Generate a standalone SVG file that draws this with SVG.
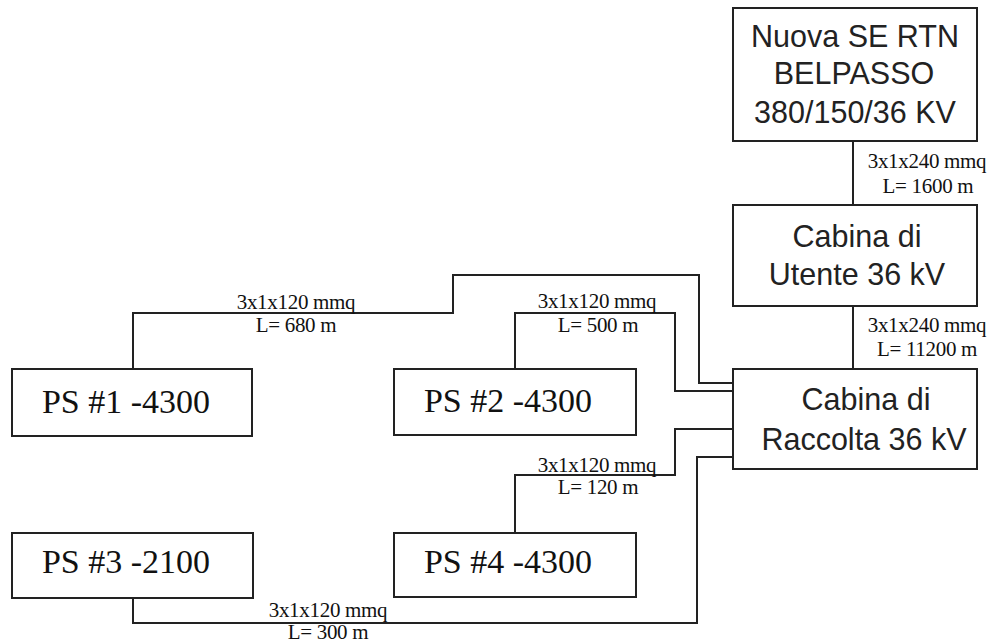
<svg xmlns="http://www.w3.org/2000/svg" width="990" height="643" viewBox="0 0 990 643">
<style>
.box{fill:#fff;stroke:#222;stroke-width:2}
.wire{fill:none;stroke:#222;stroke-width:2}
.sans{font-family:"Liberation Sans",Arial,sans-serif;font-size:30.5px;fill:#222;text-anchor:middle}
.serif{font-family:"Liberation Serif","Times New Roman",serif;font-size:34px;fill:#111;text-anchor:middle}
.lbl{font-family:"Liberation Serif","Times New Roman",serif;font-size:21px;fill:#111;text-anchor:middle;letter-spacing:-0.3px}
</style>
<rect width="990" height="643" fill="#fff"/>
<g id="connectors">
<path class="wire" d="M853,141 V205"/>
<path class="wire" d="M853,306 V369"/>
<path class="wire" d="M133,369 V313 H453 V275 H699 V383 H733"/>
<path class="wire" d="M515,369 V313 H675 V391 H733"/>
<path class="wire" d="M515,533 V475 H675 V429 H733"/>
<path class="wire" d="M133,598 V623 H697 V457 H733"/>
</g>
<g id="labels">
<text class="lbl" x="927" y="168">3x1x240 mmq</text>
<text class="lbl" x="928" y="193">L= 1600 m</text>
<text class="lbl" x="927" y="332">3x1x240 mmq</text>
<text class="lbl" x="927" y="356">L= 11200 m</text>
<text class="lbl" x="296" y="309">3x1x120 mmq</text>
<text class="lbl" x="296" y="332">L= 680 m</text>
<text class="lbl" x="597" y="308">3x1x120 mmq</text>
<text class="lbl" x="598" y="332">L= 500 m</text>
<text class="lbl" x="597" y="472">3x1x120 mmq</text>
<text class="lbl" x="598" y="494">L= 120 m</text>
<text class="lbl" x="328" y="617">3x1x120 mmq</text>
<text class="lbl" x="328" y="639">L= 300 m</text>
</g>
<g id="nuova-se">
<rect class="box" x="733" y="8" width="244" height="133"/>
<text class="sans" x="855" y="47">Nuova SE RTN</text>
<text class="sans" x="854" y="84">BELPASSO</text>
<text class="sans" x="855" y="123">380/150/36 KV</text>
</g>
<g id="cabina-utente">
<rect class="box" x="733" y="205" width="244" height="101"/>
<text class="sans" x="857" y="247">Cabina di</text>
<text class="sans" x="857" y="285">Utente 36 kV</text>
</g>
<g id="cabina-raccolta">
<rect class="box" x="733" y="369" width="244" height="100"/>
<text class="sans" x="866" y="410">Cabina di</text>
<text class="sans" x="864" y="450">Raccolta 36 kV</text>
</g>
<g id="ps1">
<rect class="box" x="12" y="369" width="240" height="67"/>
<text class="serif" x="126" y="413">PS #1 -4300</text>
</g>
<g id="ps2">
<rect class="box" x="394" y="369" width="242" height="66"/>
<text class="serif" x="508" y="412">PS #2 -4300</text>
</g>
<g id="ps3">
<rect class="box" x="12" y="533" width="241" height="65"/>
<text class="serif" x="126" y="573">PS #3 -2100</text>
</g>
<g id="ps4">
<rect class="box" x="394" y="533" width="242" height="64"/>
<text class="serif" x="508" y="573">PS #4 -4300</text>
</g>
</svg>
